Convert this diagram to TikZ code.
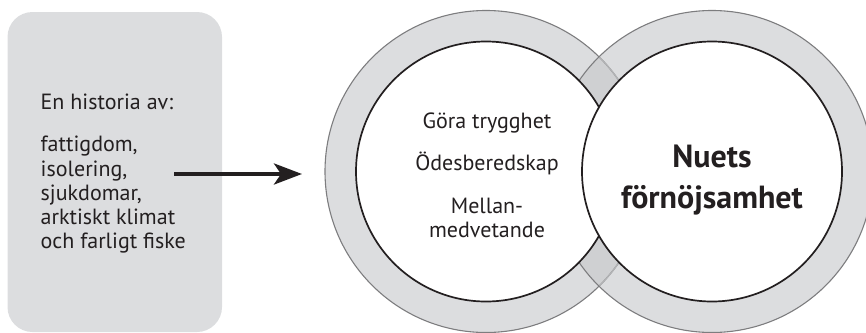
\documentclass[tikz,border=0pt]{standalone}
\usepackage{fontspec}
\setmainfont{PT Sans}
\usetikzlibrary{arrows.meta}
\definecolor{ringgray}{RGB}{220,221,223}
\definecolor{lensgray}{RGB}{207,208,210}
\definecolor{edgegray}{RGB}{125,125,127}
\definecolor{faintgray}{RGB}{178,179,181}
\definecolor{ink}{RGB}{35,31,32}
\begin{document}
\begin{tikzpicture}[x=1pt,y=-1pt,
  panel/.style={rectangle, rounded corners=25pt, fill=ringgray, draw=none,
    minimum width=214.5pt, minimum height=320pt, inner sep=0pt},
  disk/.style={circle, inner sep=0pt, minimum size=#1},
  txt/.style={font=\fontsize{22}{24}\selectfont, text=ink, inner sep=0pt},
  bigtxt/.style={font=\fontsize{32}{40}\selectfont\bfseries, text=ink, inner sep=0pt},
  flow/.style={draw=ink, line width=4pt, -{Stealth[length=28pt,width=21pt,inset=7pt]}}
]
\useasboundingbox (0,0) rectangle (866,332);

% left panel
\node[panel] (box) at (114.75,172) {};
\node[txt, anchor=base west] (h0) at (40.5,109) {En historia av:};
\node[txt, anchor=base west] (h1) at (40.5,151.7) {fattigdom,};
\node[txt, anchor=base west] (h2) at (40.5,176) {isolering,};
\node[txt, anchor=base west] (h3) at (40.5,200.3) {sjukdomar,};
\node[txt, anchor=base west] (h4) at (40.5,224.6) {arktiskt klimat};
\node[txt, anchor=base west] (h5) at (40.5,248.9) {och farligt fiske};

% arrow
\coordinate (astart) at (174,174);
\coordinate (aend) at (302,174);
\draw[flow] (astart) -- (aend);

% rings
\coordinate (lc) at (486,171.5);
\coordinate (rc) at (712,171.5);
\fill[ringgray] (lc) circle (161pt);
\fill[ringgray] (rc) circle (161pt);
\begin{scope}
  \clip (lc) circle (161pt);
  \fill[lensgray] (rc) circle (161pt);
\end{scope}
\draw[edgegray, line width=1.1pt] (lc) circle (161pt);
\begin{scope}
  \clip (rc) circle (161pt);
  \draw[faintgray, line width=1.3pt] (lc) circle (161pt);
\end{scope}
\draw[edgegray, line width=1.1pt] (rc) circle (161pt);

% inner disks
\node[disk=260pt, fill=white, draw=ink, line width=1.7pt] (li) at (lc) {};
\node[disk=260pt, fill=white, draw=ink, line width=1.7pt] (ri) at (rc) {};

% circle texts
\node[txt, anchor=base] (c1) at (487,128) {Göra trygghet};
\node[txt, anchor=base] (c2) at (487,170.5) {Ödesberedskap};
\node[txt, anchor=base] (c3) at (487,213) {Mellan-};
\node[txt, anchor=base] (c4) at (487,237) {medvetande};
\node[bigtxt, anchor=base] (n1) at (712,167) {Nuets};
\node[bigtxt, anchor=base] (n2) at (712,208) {förnöjsamhet};
\end{tikzpicture}
\end{document}
